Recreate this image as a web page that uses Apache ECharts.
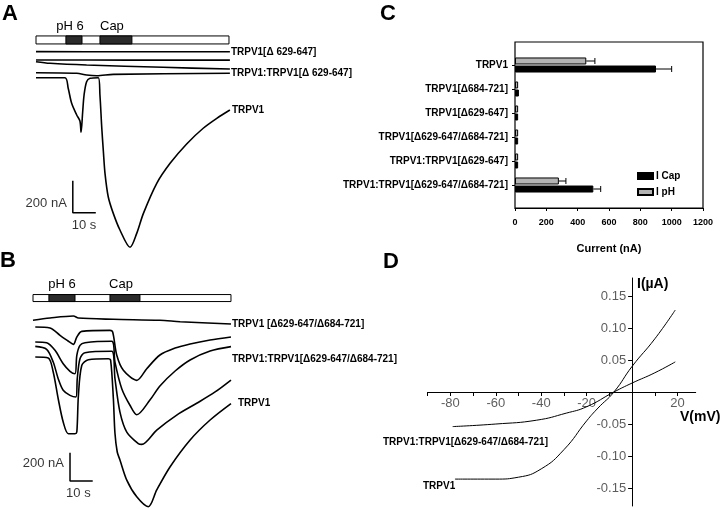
<!DOCTYPE html>
<html><head><meta charset="utf-8">
<script src="https://cdn.jsdelivr.net/npm/echarts/dist/echarts.min.js"></script>
<style>html,body{margin:0;padding:0;background:#fff}#c{width:720px;height:510px}</style>
</head><body><div id="c"></div>
<script>
const FF = '"Liberation Sans", Arial, sans-serif';
// ---------- Panel A : time (s), current (nA) ----------
const stimA = [[0, 83.9], [13.0, 20.0], [27.8, 41.7]];
const stimNames = ['', 'pH 6', 'Cap'];
const a_d629 = [[0, 163], [40, 162], [84.3, 162]];
const a_flat2 = [[0, 111], [40, 110], [84.3, 110]];
const a_flat3 = [[0, 100], [6.1, 90], [22, 79], [55.2, 65], [84.3, 54]];
const a_het = [[0, 31], [17.7, 27.5], [22, 17], [26.4, 12.5], [33.6, 21], [84.3, 27.5]];
const a_wt = [[0, 0], [12.6, 0], [14.0, -66], [15.5, -160], [17.7, -233], [19.1, -271], [19.6, -341],
  [20.3, -213], [20.9, -108], [22.0, -25], [23.5, -4], [27.1, 0], [27.8, -108], [28.6, -314], [29.3, -463],
  [30.0, -598], [31.4, -744], [33.6, -848], [36.5, -952], [40.9, -1060], [43.8, -973], [46.7, -848],
  [52.5, -660], [58.3, -535], [65.5, -414], [72.7, -316], [78.6, -254], [84.3, -202]];
const scaleA = [[16, -644], [16, -844], [26, -844]];
// ---------- Panel B ----------
const stimB = [[0, 87.2], [7.0, 18.5], [33.9, 47.1]];
const b_dd = [[0, -2], [7.5, 14], [17.8, 28], [20, 14], [35.4, 5], [55.9, -2], [64.8, -12], [87.2, -28]];
const b_t2 = [[1, -49], [7.5, -56], [11.9, -108], [15.6, -150], [17.8, -172], [19.3, -120], [21.5, -80],
  [33.9, -73], [35.1, -85], [36.9, -249], [39.8, -355], [45.7, -426], [50.1, -344], [55.9, -247],
  [62.6, -198], [69.2, -169], [78, -141], [87.2, -120]];
const b_t3 = [[1, -155], [6.0, -160], [9.7, -214], [13.3, -309], [16.3, -362], [18.5, -379], [19.3, -249],
  [20.7, -179], [22.9, -160], [34.7, -150], [36.1, -297], [39.1, -485], [42.7, -602], [45.7, -669],
  [51.5, -565], [55.9, -466], [62.6, -360], [69.2, -282], [78, -219], [87.2, -188]];
const b_t4 = [[1, -186], [6, -207], [8.9, -297], [11.1, -414], [13.3, -496], [16.3, -532], [18.9, -544],
  [19.5, -414], [20.7, -273], [22.9, -231], [34.7, -221], [36.1, -414], [38.3, -650], [41.3, -791],
  [46.4, -873], [47.9, -878], [54.5, -777], [63.3, -671], [72.1, -588], [80.2, -508], [87.2, -424]];
const b_wt = [[1, -261], [6.7, -268], [8.9, -367], [11.1, -556], [13.3, -720], [15.6, -803], [18.5, -803],
  [19.3, -791], [20, -532], [21.5, -320], [24.4, -280], [33.2, -273], [34.2, -285], [35.4, -556],
  [36.1, -800], [37.1, -932], [38.3, -988], [41.3, -1130], [45.7, -1248], [50.8, -1318], [54.5, -1200],
  [60.4, -1036], [69.2, -847], [78, -706], [87.2, -590]];
const scaleB = [[16.3, -937], [16.3, -1137], [26.3, -1137]];
// ---------- Panel C ----------
const catsC = ['TRPV1', 'TRPV1[Δ684-721]', 'TRPV1[Δ629-647]', 'TRPV1[Δ629-647/Δ684-721]',
  'TRPV1:TRPV1[Δ629-647]', 'TRPV1:TRPV1[Δ629-647/Δ684-721]'];
const phC = [455, 20, 20, 20, 20, 280];
const phErrC = [55, 0, 0, 0, 0, 45];
const capC = [900, 25, 20, 20, 20, 500];
const capErrC = [100, 0, 0, 0, 0, 47];
// ---------- Panel D : V (mV), I (µA) ----------
const d_wt = [[-78, -0.136], [-60, -0.136], [-50, -0.133], [-40, -0.120], [-30, -0.090], [-20, -0.045],
  [-15, -0.025], [-8, 0], [0, 0.040], [10, 0.083], [19, 0.128]];
const d_het = [[-79, -0.054], [-60, -0.050], [-42, -0.044], [-29, -0.033], [-20, -0.023], [-8, 0],
  [0, 0.014], [10, 0.030], [19, 0.047]];
const dXLabels = [-80, -60, -40, -20, 20];
const dXTicks = [-90, -80, -70, -60, -50, -40, -30, -20, -10, 0, 10, 20];
const dYLabels = [-0.15, -0.10, -0.05, 0.05, 0.10, 0.15];

const txt = (extra) => Object.assign({color: '#000', fontFamily: FF, fontSize: 10, fontWeight: 'bold'}, extra || {});

function stimSeries(ax, data, level, h, offs) {
  return {
    type: 'custom', xAxisIndex: ax, yAxisIndex: ax, silent: true, clip: false, z: 3,
    data: data.map(d => [d[0], d[1], level]),
    encode: {x: [0, 1], y: 2},
    renderItem(params, api) {
      const p0 = api.coord([api.value(0), api.value(2)]);
      const p1 = api.coord([api.value(1), api.value(2)]);
      const i = params.dataIndex;
      const el = {type: 'rect', shape: {x: p0[0], y: p0[1] - h / 2, width: p1[0] - p0[0], height: h},
        style: {fill: i === 0 ? '#fff' : '#2b2b2b', stroke: '#000', lineWidth: 1}};
      if (i > 0) {
        el.textContent = {style: {text: stimNames[i], fill: '#000', font: '13px ' + FF}};
        el.textConfig = {position: 'top', distance: 3, offset: [offs[i], 0]};
      }
      return el;
    }
  };
}
function trace(ax, name, data, label) {
  const s = {type: 'line', name, xAxisIndex: ax, yAxisIndex: ax, data, symbol: 'none', smooth: 0.3,
    silent: true, clip: false, lineStyle: {color: '#000', width: 1.6}};
  if (label) {
    s.endLabel = Object.assign({show: true, distance: 2}, txt(), label.opt || {});
    s.endLabel.formatter = label.text;
  }
  return s;
}
function scaleSeries(ax, data, vLabelY, hLabelX) {
  return [
    {type: 'line', xAxisIndex: ax, yAxisIndex: ax, data, symbol: 'none', silent: true, clip: false,
      lineStyle: {color: '#000', width: 1.5}},
    {type: 'scatter', xAxisIndex: ax, yAxisIndex: ax, symbolSize: 0, silent: true, clip: false,
      data: [
        {value: [data[0][0], vLabelY], label: {show: true, position: 'left', distance: 6, formatter: '200 nA'}},
        {value: [hLabelX, data[2][1]], label: {show: true, position: 'bottom', distance: 6, formatter: '10 s'}}
      ],
      label: txt({fontSize: 13, fontWeight: 'normal'})}
  ];
}
function errSeries(vals, errs, dy) {
  return {type: 'custom', xAxisIndex: 3, yAxisIndex: 3, silent: true, z: 5,
    data: vals.map((v, i) => [v, errs[i], i]),
    encode: {x: 0, y: 2},
    renderItem(params, api) {
      const e = api.value(1); if (!e) return null;
      const v = api.value(0), i = api.value(2);
      const p0 = api.coord([v, i]), p1 = api.coord([v + e, i]);
      const y = p0[1] + dy;
      return {type: 'group', children: [
        {type: 'line', shape: {x1: p0[0], y1: y, x2: p1[0], y2: y}, style: {stroke: '#000', lineWidth: 1}},
        {type: 'line', shape: {x1: p1[0], y1: y - 3, x2: p1[0], y2: y + 3}, style: {stroke: '#000', lineWidth: 1}}
      ]};
    }};
}
const dTickLabelStyle = {color: '#333', fontFamily: FF, fontSize: 13};

const hidden = {show: false};
const chart = echarts.init(document.getElementById('c'), null, {renderer: 'canvas'});
chart.setOption({
  animation: false,
  backgroundColor: '#fff',
  textStyle: {fontFamily: FF},
  grid: [
    {left: 36, top: 29.7, width: 195.5, height: 224, outerBoundsMode: 'none'},
    {left: 33, top: 284.6, width: 199.8, height: 225.2, outerBoundsMode: 'none'},
    {left: 515, top: 42, width: 188, height: 166, show: true, borderColor: '#000', borderWidth: 1.2, outerBoundsMode: 'none'},
    {left: 515, top: 53, width: 188, height: 144, outerBoundsMode: 'none'},
    {left: 427.7, top: 278, width: 268, height: 228, outerBoundsMode: 'none'}
  ],
  xAxis: [
    Object.assign({gridIndex: 0, type: 'value', min: 0, max: 85}, hidden),
    Object.assign({gridIndex: 1, type: 'value', min: 0, max: 88}, hidden),
    {gridIndex: 2, type: 'value', min: 0, max: 1200, interval: 200, splitLine: hidden,
      axisLine: {lineStyle: {color: '#000', width: 1.2}},
      axisTick: {show: true, length: 3, lineStyle: {color: '#000'}},
      axisLabel: txt({fontSize: 9, margin: 10, formatter: v => String(v)}),
      name: 'Current (nA)', nameLocation: 'middle', nameGap: 35, nameTextStyle: txt({fontSize: 11})},
    Object.assign({gridIndex: 3, type: 'value', min: 0, max: 1200}, hidden),
    {gridIndex: 4, type: 'value', min: -90, max: 28, splitLine: hidden,
      axisLine: {onZero: true, lineStyle: {color: '#000', width: 1}},
      axisTick: {show: true, length: 4, customValues: dXTicks, lineStyle: {color: '#000'}},
      axisLabel: {show: false}}
  ],
  yAxis: [
    Object.assign({gridIndex: 0, type: 'value', min: -1100, max: 300}, hidden),
    Object.assign({gridIndex: 1, type: 'value', min: -1340, max: 250}, hidden),
    Object.assign({gridIndex: 2, type: 'value', min: 0, max: 1}, hidden),
    {gridIndex: 3, type: 'category', data: catsC, inverse: true,
      axisLine: hidden, axisTick: {show: true, length: 3, alignWithLabel: true, lineStyle: {color: '#000'}},
      axisLabel: txt({fontSize: 10, margin: 7})},
    {gridIndex: 4, type: 'value', min: -0.178, max: 0.178, splitLine: hidden,
      axisLine: {onZero: true, lineStyle: {color: '#000', width: 1}},
      axisTick: {show: true, length: 4, customValues: dYLabels, lineStyle: {color: '#000'}},
      axisLabel: {show: false}}
  ],
  legend: {data: ['I Cap', 'I pH'], orient: 'vertical', left: 632, top: 166, itemWidth: 15, itemHeight: 6,
    itemGap: 6, icon: 'rect', textStyle: txt({fontSize: 10, padding: [0, 0, 0, -2]})},
  graphic: [
    {type: 'text', left: 2, top: 3, style: {text: 'A', fill: '#000', font: 'bold 22px ' + FF}},
    {type: 'text', left: 0, top: 250, style: {text: 'B', fill: '#000', font: 'bold 22px ' + FF}},
    {type: 'text', left: 380, top: 3, style: {text: 'C', fill: '#000', font: 'bold 22px ' + FF}},
    {type: 'text', left: 383, top: 251, style: {text: 'D', fill: '#000', font: 'bold 22px ' + FF}},
    {type: 'text', left: 637, top: 277, style: {text: 'I(µA)', fill: '#000', font: 'bold 14px ' + FF}},
    {type: 'text', left: 680, top: 410, style: {text: 'V(mV)', fill: '#000', font: 'bold 14px ' + FF}},
    {type: 'text', left: 383, top: 437, style: {text: 'TRPV1:TRPV1[Δ629-647/Δ684-721]', fill: '#000', font: 'bold 10px ' + FF}},
    {type: 'text', left: 423, top: 481, style: {text: 'TRPV1', fill: '#000', font: 'bold 10px ' + FF}}
  ],
  series: [
    stimSeries(0, stimA, 236, 8, [0, -4, -4]),
    trace(0, 'A1', a_d629, {text: 'TRPV1[Δ 629-647]', opt: {distance: 1}}),
    trace(0, 'A2', a_flat2),
    trace(0, 'A3', a_flat3),
    trace(0, 'A4', a_het, {text: 'TRPV1:TRPV1[Δ 629-647]', opt: {distance: 1}}),
    trace(0, 'A5', a_wt, {text: 'TRPV1', opt: {distance: 2}}),
    ...scaleSeries(0, scaleA, -785, 20.9),
    stimSeries(1, stimB, 155, 7, [0, 0, -4]),
    trace(1, 'B1', b_dd, {text: 'TRPV1 [Δ629-647/Δ684-721]', opt: {distance: 1}}),
    trace(1, 'B2', b_t2),
    trace(1, 'B3', b_t3, {text: 'TRPV1:TRPV1[Δ629-647/Δ684-721]', opt: {distance: 1, offset: [0, 13]}}),
    trace(1, 'B4', b_t4),
    trace(1, 'B5', b_wt, {text: 'TRPV1', opt: {distance: 7}}),
    ...scaleSeries(1, scaleB, -1012, 20),
    {type: 'bar', name: 'I pH', xAxisIndex: 3, yAxisIndex: 3, data: phC, barWidth: 7, barGap: '15%',
      itemStyle: {color: '#b3b3b3', borderColor: '#000', borderWidth: 1}, silent: true},
    {type: 'bar', name: 'I Cap', xAxisIndex: 3, yAxisIndex: 3, data: capC, barWidth: 7, barGap: '15%',
      itemStyle: {color: '#000', borderColor: '#000', borderWidth: 1}, silent: true},
    errSeries(phC, phErrC, -4),
    errSeries(capC, capErrC, 4),
    {type: 'line', xAxisIndex: 4, yAxisIndex: 4, data: d_wt, smooth: true, symbol: 'none', silent: true,
      lineStyle: {color: '#000', width: 1}},
    {type: 'line', xAxisIndex: 4, yAxisIndex: 4, data: d_het, smooth: true, symbol: 'none', silent: true,
      lineStyle: {color: '#000', width: 1}},
    {type: 'scatter', xAxisIndex: 4, yAxisIndex: 4, symbolSize: 0, silent: true, clip: false,
      data: dXLabels.map(v => [v, 0]),
      label: Object.assign({show: true, position: 'bottom', distance: 5, formatter: p => String(p.value[0])}, dTickLabelStyle)},
    {type: 'scatter', xAxisIndex: 4, yAxisIndex: 4, symbolSize: 0, silent: true, clip: false,
      data: dYLabels.map(v => [0, v]),
      label: Object.assign({show: true, position: 'left', distance: 6, formatter: p => p.value[1].toFixed(2)}, dTickLabelStyle)}
  ]
});
</script></body></html>
